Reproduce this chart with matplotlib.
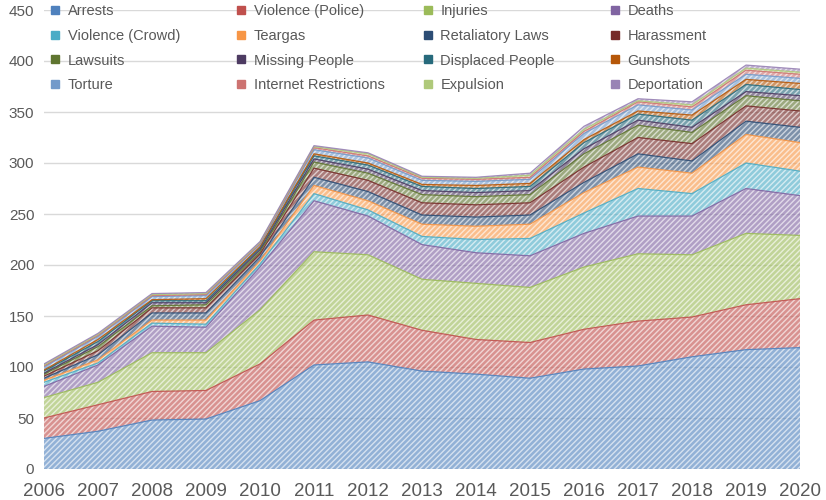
import numpy as np
import matplotlib
matplotlib.use("Agg")
import matplotlib.pyplot as plt
from matplotlib.lines import Line2D

years = np.arange(2006, 2021)

arrests = [30, 37, 48, 49, 67, 102, 105, 96, 93, 89, 98, 101, 110, 117, 119]
violence_police = [20, 26, 28, 28, 36, 44, 46, 40, 34, 35, 39, 44, 39, 44, 48]
injuries = [20, 22, 38, 37, 53, 67, 59, 50, 55, 54, 61, 66, 61, 70, 62]
deaths = [11, 17, 26, 25, 42, 50, 38, 34, 30, 31, 33, 37, 38, 44, 39]
violence_crowd = [4, 2, 3, 3, 3, 7, 6, 8, 13, 17, 20, 27, 22, 25, 24]
teargas = [2, 3, 3, 4, 3, 8, 9, 12, 13, 14, 20, 21, 20, 28, 28]
retaliatory_laws = [2, 5, 7, 7, 4, 8, 9, 9, 9, 9, 10, 13, 12, 13, 15]
harassment = [2, 4, 5, 5, 3, 9, 11, 12, 12, 12, 15, 16, 17, 15, 16]
lawsuits = [2, 4, 2, 3, 2, 6, 7, 8, 8, 8, 13, 12, 11, 10, 10]
missing_people = [1, 2, 3, 2, 2, 3, 4, 4, 4, 4, 5, 5, 5, 4, 5]
displaced_people = [2, 3, 2, 2, 2, 3, 4, 4, 4, 4, 6, 6, 7, 7, 6]
gunshots = [1, 2, 1, 2, 1, 2, 2, 2, 3, 3, 3, 3, 5, 5, 6]
torture = [3, 3, 3, 3, 2, 4, 5, 4, 4, 4, 6, 6, 5, 5, 5]
internet_restrictions = [1, 1, 1, 1, 1, 2, 2, 2, 2, 2, 2, 3, 3, 4, 4]
expulsion = [1, 1, 1, 1, 1, 1, 2, 1, 1, 2, 2, 1, 2, 2, 2]
deportation = [1, 1, 1, 1, 1, 1, 1, 1, 1, 2, 3, 2, 3, 3, 3]

labels = ["Arrests", "Violence (Police)", "Injuries", "Deaths",
          "Violence (Crowd)", "Teargas", "Retaliatory Laws", "Harassment",
          "Lawsuits", "Missing People", "Displaced People", "Gunshots",
          "Torture", "Internet Restrictions", "Expulsion", "Deportation"]
series = [arrests, violence_police, injuries, deaths, violence_crowd, teargas,
          retaliatory_laws, harassment, lawsuits, missing_people, displaced_people,
          gunshots, torture, internet_restrictions, expulsion, deportation]
colors = ["#4F81BD", "#C0504D", "#9BBB59", "#8064A2", "#4BACC6", "#F79646",
          "#2C4D75", "#772C2A", "#5F7530", "#4D3B62", "#276A7C", "#B65708",
          "#729ACA", "#CD7371", "#AFC97A", "#9983B5"]

plt.rcParams['font.family'] = ['Liberation Sans', 'DejaVu Sans']
plt.rcParams['hatch.linewidth'] = 1.0
plt.rcParams['hatch.color'] = 'white'

fig = plt.figure(figsize=(8.26, 5), dpi=100)
ax = fig.add_axes([44/826, 31/500, 756/826, 459/500])

base = np.zeros(len(years))
for vals, c in zip(series, colors):
    top = base + np.array(vals)
    ax.fill_between(years, base, top, facecolor=c, alpha=0.62, hatch='//////',
                    edgecolor='white', linewidth=0, zorder=2)
    ax.plot(years, top, color=c, lw=0.9, alpha=0.9, zorder=3)
    base = top

ax.set_xlim(2006, 2020)
ax.set_ylim(0, 450)
ax.set_yticks(range(0, 451, 50))
ax.set_xticks(years)
ax.grid(axis='y', color='#D9D9D9', lw=1, zorder=0)
ax.set_axisbelow(True)
for s in ax.spines.values():
    s.set_visible(False)
ax.tick_params(length=0, colors='#595959')
ax.tick_params(axis='y', labelsize=11, pad=7)
ax.tick_params(axis='x', labelsize=13.5, pad=10)

# legend: four columns, row-major order
col_x = [50, 236, 423, 610]
for k in range(4):
    handles = []
    for r in range(4):
        i = 4 * r + k
        handles.append(Line2D([], [], marker='s', ls='none', markersize=6,
                              color=colors[i], label=labels[i]))
    leg = fig.legend(handles=handles, loc='upper left',
                     bbox_to_anchor=(col_x[k]/826, 1 - 4/500), frameon=False,
                     fontsize=10.5, handlelength=0.7, handletextpad=0.5,
                     labelspacing=0.74, borderpad=0, borderaxespad=0,
                     labelcolor='#595959')

fig.savefig("out.png", dpi=100)
